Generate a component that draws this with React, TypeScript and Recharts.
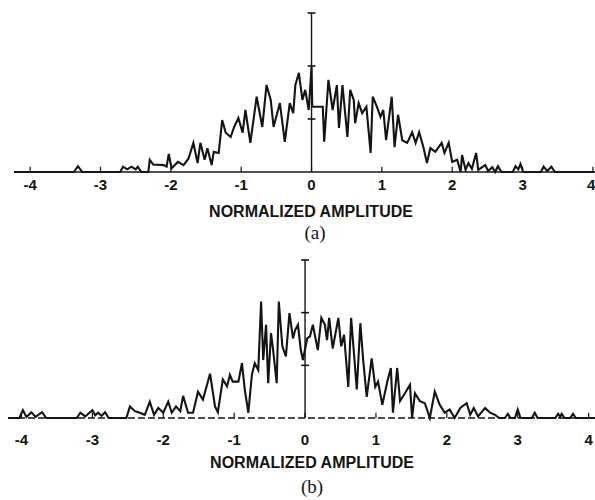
import React from 'react'
import { LineChart, Line, XAxis, YAxis, ReferenceLine } from 'recharts'

// panel (a): normalized amplitude vs. relative count
const ampA = [
  -4.23, -3.38, -3.32, -3.26, -2.72, -2.68, -2.62, -2.56, -2.5, -2.47, -2.42, -2.32, -2.3, -2.25, -2.1, -2.06,
  -2.03, -1.99, -1.9, -1.82, -1.75, -1.68, -1.62, -1.58, -1.52, -1.48, -1.42, -1.39, -1.32, -1.27, -1.22, -1.15,
  -1.1, -1.04, -0.98, -0.94, -0.87, -0.78, -0.7, -0.64, -0.58, -0.54, -0.45, -0.38, -0.31, -0.26, -0.23, -0.18,
  -0.13, -0.09, -0.04, 0, 0.01, 0.16, 0.18, 0.24, 0.3, 0.36, 0.39, 0.44, 0.51, 0.55, 0.6, 0.62, 0.67, 0.72,
  0.78, 0.84, 0.87, 0.93, 0.98, 1.02, 1.06, 1.14, 1.18, 1.23, 1.29, 1.36, 1.43, 1.48, 1.53, 1.59, 1.64, 1.69,
  1.76, 1.85, 1.89, 1.95, 2.0, 2.07, 2.12, 2.14, 2.19, 2.23, 2.28, 2.34, 2.37, 2.47, 2.51, 2.57, 2.61, 2.65,
  2.7, 2.86, 2.9, 2.94, 2.97, 3.01, 3.26, 3.3, 3.35, 3.41, 3.46, 4.03,
]
const countA = [
  0, 0, 0.11, 0, 0, 0.1, 0.05, 0.1, 0.05, 0.1, 0, 0, 0.23, 0.14, 0.13, 0.1,
  0.34, 0.07, 0.19, 0.13, 0.25, 0.55, 0.17, 0.55, 0.23, 0.45, 0.13, 0.38, 0.36, 0.98, 0.74, 0.66,
  0.85, 1.02, 0.74, 1.17, 0.55, 1.42, 0.85, 1.64, 1.36, 0.85, 1.3, 0.57, 1.3, 1.11, 1.64, 1.87,
  1.36, 1.55, 1.17, 1.98, 1.23, 1.23, 0.57, 1.74, 1.17, 1.64, 0.83, 1.64, 0.66, 1.55, 1.36, 0.92, 1.3, 1.11,
  1.23, 0.36, 1.42, 1.23, 1.04, 1.17, 0.6, 1.42, 0.47, 1.08, 0.6, 0.55, 0.75, 0.55, 0.75, 0.47, 0.17, 0.45,
  0.38, 0.55, 0.36, 0.55, 0.19, 0.23, 0, 0.32, 0.04, 0.17, 0.06, 0.36, 0.04, 0.13, 0.02, 0.09, 0, 0.11,
  0, 0, 0.11, 0.05, 0.15, 0, 0, 0.1, 0.02, 0.1, 0, 0,
]

// panel (b)
const ampB = [
  -4.19, -4.03, -3.98, -3.93, -3.86, -3.8, -3.71, -3.65, -3.22, -3.17, -3.1, -3.0, -2.96, -2.92, -2.87, -2.82,
  -2.77, -2.52, -2.47, -2.4, -2.33, -2.26, -2.19, -2.13, -2.07, -2.0, -1.93, -1.88, -1.82, -1.76, -1.72, -1.65,
  -1.58, -1.51, -1.44, -1.34, -1.27, -1.23, -1.16, -1.1, -1.06, -1.02, -0.94, -0.89, -0.85, -0.8, -0.75, -0.71,
  -0.66, -0.62, -0.59, -0.55, -0.52, -0.48, -0.45, -0.4, -0.37, -0.32, -0.27, -0.22, -0.17, -0.14, -0.1, -0.06,
  -0.03, 0.03, 0.07, 0.11, 0.18, 0.23, 0.28, 0.31, 0.34, 0.39, 0.47, 0.51, 0.55, 0.61, 0.65, 0.69, 0.73, 0.78,
  0.82, 0.87, 0.94, 0.99, 1.03, 1.09, 1.16, 1.21, 1.24, 1.3, 1.34, 1.41, 1.48, 1.51, 1.55, 1.62, 1.69, 1.76,
  1.83, 1.9, 1.97, 2.04, 2.11, 2.19, 2.28, 2.33, 2.38, 2.44, 2.54, 2.61, 2.68, 2.74, 2.82, 2.86, 2.9, 2.96,
  3.0, 3.04, 3.2, 3.24, 3.28, 3.53, 3.57, 3.6, 3.62, 3.66, 3.74, 3.78, 3.82, 4.09,
]
const countB = [
  0, 0, 0.15, 0.02, 0.11, 0.02, 0.11, 0, 0, 0.1, 0.03, 0.15, 0.05, 0.1, 0.04, 0.11,
  0, 0, 0.22, 0.13, 0.1, 0.06, 0.31, 0.06, 0.19, 0.1, 0.31, 0.1, 0.22, 0.13, 0.42, 0.1,
  0.1, 0.5, 0.35, 0.84, 0.22, 0.11, 0.73, 0.6, 0.82, 0.69, 0.69, 1.04, 0.54, 0.1, 0.82, 1.04,
  0.91, 2.21, 1.1, 1.77, 0.66, 1.61, 1.29, 0.66, 2.21, 1.36, 1.17, 1.99, 1.51, 1.67, 1.77, 1.29,
  1.1, 1.51, 1.55, 1.77, 1.29, 1.9, 1.77, 1.48, 1.9, 1.32, 1.9, 1.36, 1.58, 0.59, 1.9, 1.23, 0.54, 1.8,
  1.1, 0.4, 1.13, 0.59, 0.69, 0.25, 0.69, 0.95, 0.1, 0.95, 0.32, 0.47, 0.63, 0, 0.47, 0.32, 0.28, 0,
  0.5, 0.25, 0.1, 0.16, 0, 0.19, 0.28, 0.06, 0.19, 0.03, 0.19, 0.1, 0.06, 0, 0, 0.08, 0, 0,
  0.16, 0, 0, 0.1, 0, 0, 0.08, 0.02, 0.08, 0, 0, 0.08, 0, 0,
]

const xTicks = [-4, -3, -2, -1, 0, 1, 2, 3, 4]
const axisMarks = [1, 2, 3]

const ink = '#141414'
const sans = 'Liberation Sans, Arial, sans-serif'
const serif = 'Liberation Serif, Times New Roman, serif'

interface PanelProps {
  amp: number[]
  count: number[]
  domain: [number, number]
  top: number
  left: number
  height: number
  labelGap: number
  dashedBase?: boolean
}

function Panel({ amp, count, domain, top, left, height, labelGap, dashedBase }: PanelProps) {
  const rows = amp.map((x, i) => ({ x, y: count[i] }))
  return (
    <LineChart
      width={595}
      height={height}
      data={rows}
      margin={{ top, right: 0, left, bottom: 0 }}
      style={{ position: 'absolute', left: 0, top: 0 }}
    >
      <XAxis
        type="number"
        dataKey="x"
        domain={domain}
        ticks={xTicks}
        allowDataOverflow
        height={30}
        tickLine={false}
        tickMargin={labelGap}
        axisLine={{ stroke: ink, strokeWidth: 1.6, strokeDasharray: dashedBase ? '7 3' : undefined }}
        tick={{ fill: ink, fontSize: 15, fontFamily: sans, fontWeight: 700 }}
      />
      <YAxis hide domain={[0, 3]} />
      {xTicks.map((t) => (
        <ReferenceLine
          key={'t' + t}
          segment={[{ x: t, y: 0 }, { x: t, y: 0.1 }]}
          stroke={ink}
          strokeWidth={1.2}
        />
      ))}
      <ReferenceLine x={0} stroke={ink} strokeWidth={1.4} />
      {axisMarks.map((m) => (
        <ReferenceLine
          key={'m' + m}
          segment={[{ x: -0.055, y: m }, { x: 0.055, y: m }]}
          stroke={ink}
          strokeWidth={1.6}
        />
      ))}
      <Line
        type="linear"
        dataKey="y"
        stroke={ink}
        strokeWidth={2.1}
        dot={false}
        isAnimationActive={false}
      />
    </LineChart>
  )
}

const caption: React.CSSProperties = {
  position: 'absolute',
  transform: 'translate(-50%, -50%)',
  whiteSpace: 'nowrap',
  color: ink,
  lineHeight: 1,
}

export default function App() {
  return (
    <div style={{ position: 'absolute', left: 0, top: 0, width: 595, height: 500, background: '#fff', overflow: 'hidden' }}>
      <div style={{ position: 'absolute', left: 0, top: 0, width: 595, height: 202 }}>
        <Panel amp={ampA} count={countA} domain={[-4.23, 4.03]} top={13} left={14} height={202} labelGap={1} />
      </div>
      <div style={{ ...caption, left: 311, top: 212, fontFamily: sans, fontWeight: 700, fontSize: 16 }}>
        NORMALIZED AMPLITUDE
      </div>
      <div style={{ ...caption, left: 315, top: 232, fontFamily: serif, fontSize: 19 }}>
        (a)
      </div>

      <div style={{ position: 'absolute', left: 0, top: 0, width: 595, height: 448 }}>
        <Panel amp={ampB} count={countB} domain={[-4.19, 4.09]} top={260} left={8} height={448} labelGap={10} dashedBase />
      </div>
      <div style={{ ...caption, left: 312, top: 463, fontFamily: sans, fontWeight: 700, fontSize: 16 }}>
        NORMALIZED AMPLITUDE
      </div>
      <div style={{ ...caption, left: 312, top: 486, fontFamily: serif, fontSize: 19 }}>
        (b)
      </div>
    </div>
  )
}
